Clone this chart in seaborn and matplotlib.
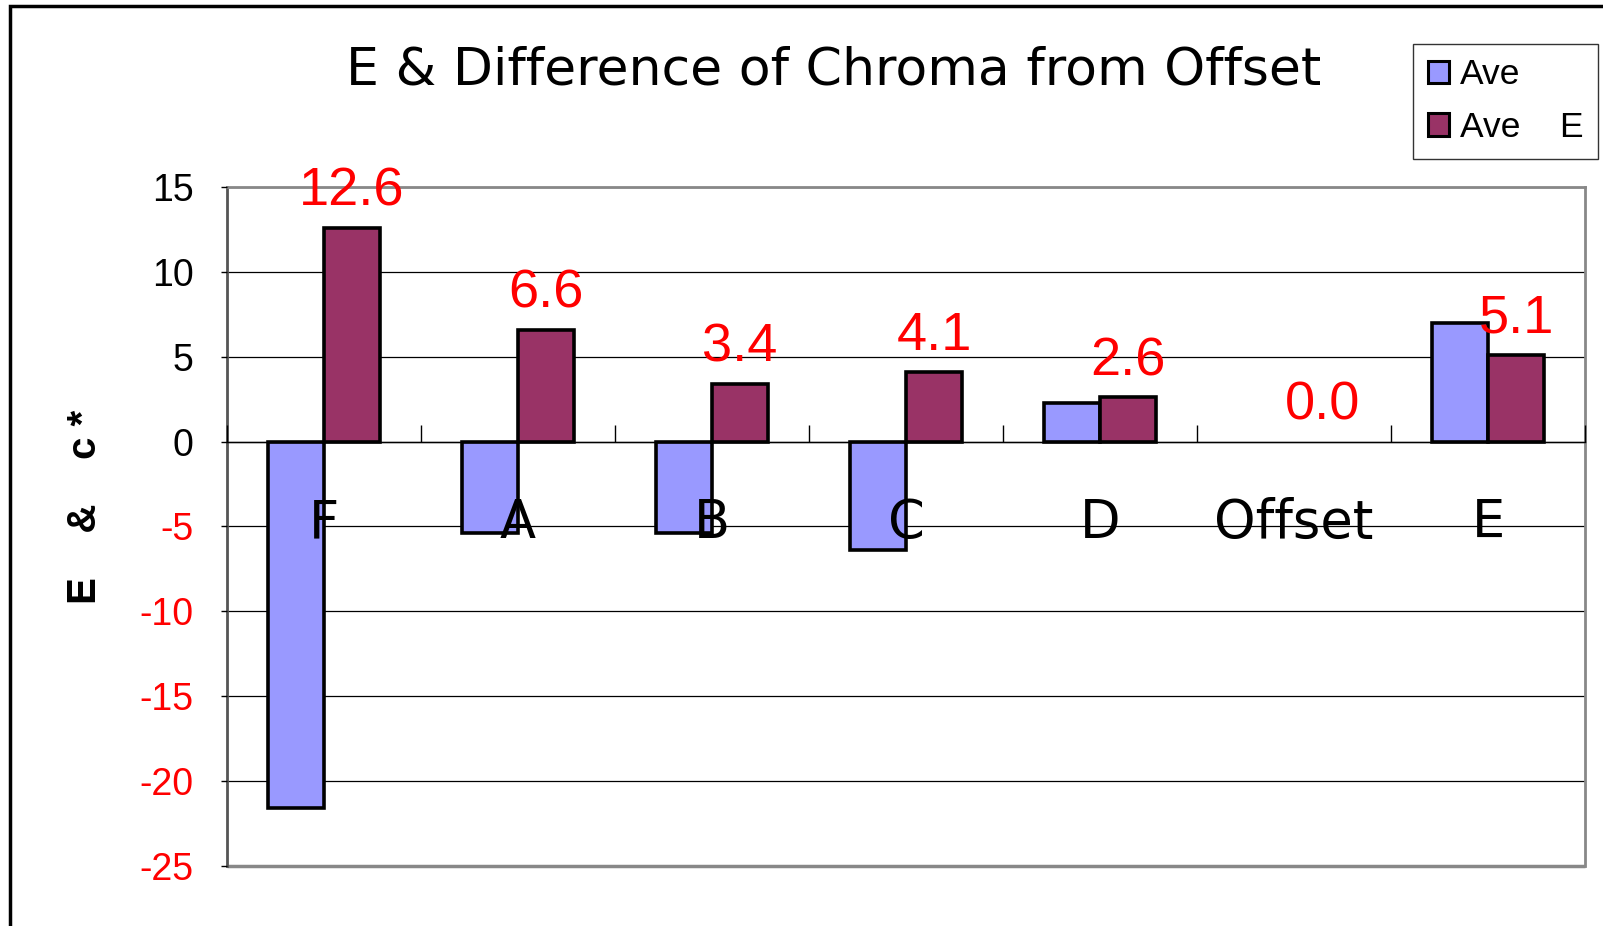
import matplotlib
matplotlib.use("Agg")
import matplotlib.pyplot as plt
from matplotlib.patches import Rectangle, Patch
from matplotlib.ticker import FixedLocator
import seaborn as sns
import pandas as pd

categories = ["F", "A", "B", "C", "D", "Offset", "E"]
ave_chroma = [-21.6, -5.4, -5.4, -6.4, 2.3, 0.0, 7.0]
ave_delta_e = [12.6, 6.6, 3.4, 4.1, 2.6, 0.0, 5.1]
series_names = ["Ave", "Ave    E"]
y_ticks = [15, 10, 5, 0, -5, -10, -15, -20, -25]

blue = "#9999FF"
maroon = "#993366"

df = pd.DataFrame({
    "category": categories * 2,
    "value": ave_chroma + ave_delta_e,
    "series": [series_names[0]] * len(categories) + [series_names[1]] * len(categories),
})

sns.set_style("white")
plt.rcParams["font.family"] = ["Liberation Sans", "DejaVu Sans"]
plt.rcParams["text.color"] = "black"
plt.rcParams["xtick.color"] = "black"
plt.rcParams["ytick.color"] = "black"
plt.rcParams["axes.labelcolor"] = "black"

fig = plt.figure(figsize=(16.03, 9.26), dpi=100)
ax = fig.add_axes([0.1416, 0.0648, 0.8472, 0.7333])

# gridlines drawn under the bars, axis labels on top of them
for t in y_ticks:
    ax.axhline(t, color="black", linewidth=0.9, zorder=0)

sns.barplot(data=df, x="category", y="value", hue="series", order=categories,
            hue_order=series_names, palette=[blue, maroon], width=0.58,
            edgecolor="black", linewidth=2.6, saturation=1, legend=False, ax=ax)

# zero-height bars leave no outline
for p in ax.patches:
    if p.get_height() == 0:
        p.set_linewidth(0)

ax.set_axisbelow(False)
ax.set_ylim(-25, 15)
ax.set_xlim(-0.5, len(categories) - 0.5)
ax.set_yticks(y_ticks)
ax.set_yticklabels([str(t) for t in y_ticks])
for lab, t in zip(ax.get_yticklabels(), y_ticks):
    lab.set_color("red" if t < 0 else "black")
ax.tick_params(axis="y", labelsize=27, direction="out", length=4, width=1, pad=20, left=True)
ax.set_xlabel("")
ax.set_ylabel("")

# category axis crosses at zero
ax.spines["bottom"].set_position(("data", 0))
ax.spines["bottom"].set_color("black")
ax.spines["bottom"].set_linewidth(1)
ax.xaxis.set_major_locator(FixedLocator([i - 0.5 for i in range(len(categories) + 1)]))
ax.xaxis.set_minor_locator(FixedLocator(list(range(len(categories)))))
ax.set_xticklabels([], minor=False)
ax.set_xticklabels(categories, minor=True, fontfamily="DejaVu Sans")
ax.tick_params(axis="x", which="major", direction="in", length=12, width=1, bottom=True)
ax.tick_params(axis="x", which="minor", length=0, labelsize=38, pad=40, bottom=True)

for s in ["top", "right"]:
    ax.spines[s].set_color("#888888")
    ax.spines[s].set_linewidth(2)
ax.spines["left"].set_color("#555555")
ax.spines["left"].set_linewidth(2)
ax.add_patch(Rectangle((0, 0), 1, 0.0, transform=ax.transAxes, fill=False,
                       edgecolor="#888888", linewidth=2.5, clip_on=False))

ax.bar_label(ax.containers[1], fmt="%.1f", padding=8, color="red", fontsize=39)

fig.text(0.52, 0.924, "E & Difference of Chroma from Offset", ha="center", va="center",
         fontsize=37.5, fontfamily="DejaVu Sans")
fig.text(0.053, 0.453, "E    &    c *", rotation=90, ha="center", va="center",
         fontsize=29, fontweight="bold")

handles = [Patch(facecolor=blue, edgecolor="black", linewidth=2.2),
           Patch(facecolor=maroon, edgecolor="black", linewidth=2.2)]
leg = fig.legend(handles, series_names, loc="upper right", bbox_to_anchor=(0.997, 0.953),
                 fontsize=25.5, frameon=True, fancybox=False, handlelength=0.6,
                 handleheight=0.6, handletextpad=0.3, labelspacing=0.55,
                 borderpad=0.42, borderaxespad=0)
leg.get_frame().set_edgecolor("black")
leg.get_frame().set_linewidth(1)

fig.add_artist(Rectangle((10 / 1603, -0.1), 1.2, 1.1 - 6 / 926,
                         transform=fig.transFigure, fill=False, edgecolor="black",
                         linewidth=2.5))

fig.savefig("out.png", dpi=100)
